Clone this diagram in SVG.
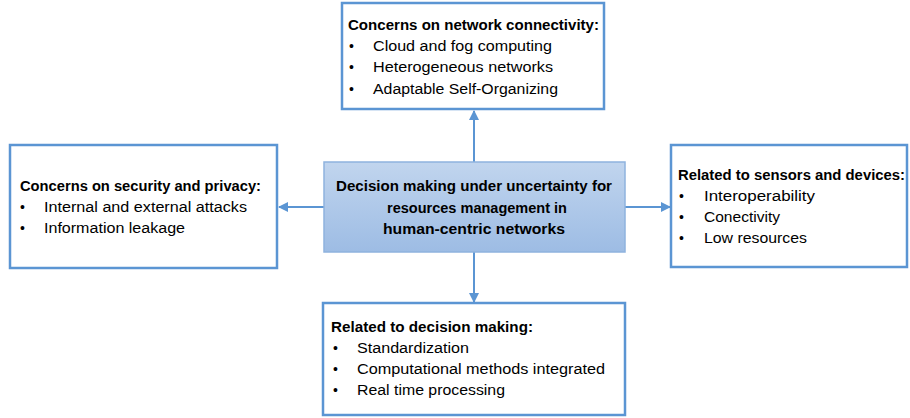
<svg xmlns="http://www.w3.org/2000/svg" width="910" height="418" viewBox="0 0 910 418">
<defs>
<linearGradient id="cg" x1="0" y1="0" x2="0" y2="1">
<stop offset="0" stop-color="#c1d5ee"/>
<stop offset="1" stop-color="#9dbce4"/>
</linearGradient>
<marker id="ah" viewBox="0 0 10 10" refX="9" refY="5" markerWidth="5" markerHeight="5" orient="auto" markerUnits="strokeWidth">
<path d="M0,0 L10,5 L0,10 z" fill="#5b95d3"/>
</marker>
<style>
.box{fill:#fff;stroke:#5b95d3;stroke-width:2.5}
.ctr{fill:url(#cg);stroke:#8fb3de;stroke-width:1.5}
.t{font-family:"Liberation Sans",Arial,sans-serif;font-size:14px;fill:#000}
.b{font-weight:bold;font-size:14.5px}
.c{text-anchor:middle}
.con{stroke:#5b95d3;stroke-width:2;fill:none;marker-end:url(#ah)}
</style>
</defs>
<rect width="910" height="418" fill="#fff"/>
<g id="connectors">
<line class="con" x1="474" y1="162" x2="474" y2="111"/>
<line class="con" x1="474" y1="252" x2="474" y2="302"/>
<line class="con" x1="324" y1="207" x2="279" y2="207"/>
<line class="con" x1="625" y1="207" x2="670" y2="207"/>
</g>
<g id="top">
<rect class="box" x="342" y="3" width="262" height="106"/>
<text class="t b" x="348" y="30" textLength="251" lengthAdjust="spacingAndGlyphs">Concerns on network connectivity:</text>
<text class="t" x="349" y="51">•</text><text class="t" x="373" y="51" textLength="179" lengthAdjust="spacingAndGlyphs">Cloud and fog computing</text>
<text class="t" x="349" y="72">•</text><text class="t" x="373" y="72" textLength="180" lengthAdjust="spacingAndGlyphs">Heterogeneous networks</text>
<text class="t" x="349" y="94">•</text><text class="t" x="373" y="94" textLength="185" lengthAdjust="spacingAndGlyphs">Adaptable Self-Organizing</text>
</g>
<g id="left">
<rect class="box" x="10" y="145" width="267" height="123"/>
<text class="t b" x="20" y="191" textLength="241" lengthAdjust="spacingAndGlyphs">Concerns on security and privacy:</text>
<text class="t" x="20" y="212">•</text><text class="t" x="44" y="212" textLength="203" lengthAdjust="spacingAndGlyphs">Internal and external attacks</text>
<text class="t" x="20" y="233">•</text><text class="t" x="44" y="233" textLength="141" lengthAdjust="spacingAndGlyphs">Information leakage</text>
</g>
<g id="center">
<rect class="ctr" x="324" y="162" width="301" height="90"/>
<text class="t b c" x="474" y="191" textLength="276" lengthAdjust="spacingAndGlyphs">Decision making under uncertainty for</text>
<text class="t b c" x="477" y="213" textLength="180" lengthAdjust="spacingAndGlyphs">resources management in</text>
<text class="t b c" x="474" y="234" textLength="182" lengthAdjust="spacingAndGlyphs">human-centric networks</text>
</g>
<g id="right">
<rect class="box" x="671" y="145" width="236" height="122"/>
<text class="t b" x="678" y="180" textLength="227" lengthAdjust="spacingAndGlyphs">Related to sensors and devices:</text>
<text class="t" x="679" y="201">•</text><text class="t" x="704" y="201" textLength="111" lengthAdjust="spacingAndGlyphs">Interoperability</text>
<text class="t" x="679" y="222">•</text><text class="t" x="704" y="222" textLength="76" lengthAdjust="spacingAndGlyphs">Conectivity</text>
<text class="t" x="679" y="243">•</text><text class="t" x="704" y="243" textLength="103" lengthAdjust="spacingAndGlyphs">Low resources</text>
</g>
<g id="bottom">
<rect class="box" x="323" y="303" width="302" height="112"/>
<text class="t b" x="331" y="332" textLength="202" lengthAdjust="spacingAndGlyphs">Related to decision making:</text>
<text class="t" x="333" y="353">•</text><text class="t" x="357" y="353" textLength="112" lengthAdjust="spacingAndGlyphs">Standardization</text>
<text class="t" x="333" y="374">•</text><text class="t" x="357" y="374" textLength="248" lengthAdjust="spacingAndGlyphs">Computational methods integrated</text>
<text class="t" x="333" y="395">•</text><text class="t" x="357" y="395" textLength="148" lengthAdjust="spacingAndGlyphs">Real time processing</text>
</g>
</svg>
